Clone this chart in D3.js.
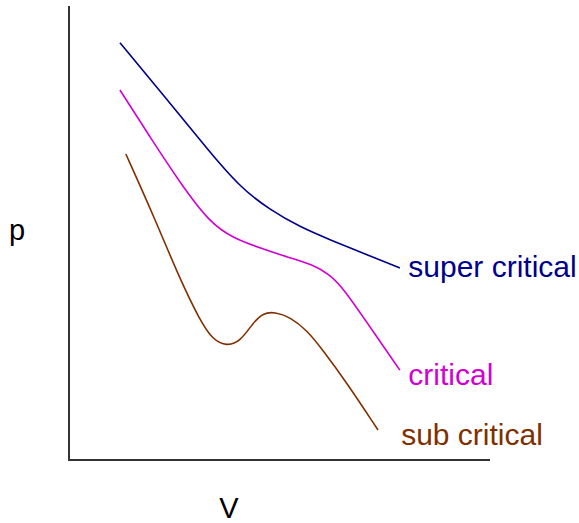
<!DOCTYPE html>
<html>
<head>
<meta charset="utf-8">
<script src="https://cdn.jsdelivr.net/npm/d3@7"></script>
<style>
  body { margin: 0; background: #fff; }
  text { font-family: "Liberation Sans", Arial, sans-serif; }
</style>
</head>
<body>
<div id="chart"></div>
<script>
// isotherm data, V and p in arbitrary units (0..100)
var superV = [12.1, 22.8, 33, 40.6, 47.7, 54.9, 62, 70.8, 78.6];
var superP = [91.9, 80, 68.3, 60.1, 55.1, 51.3, 48.5, 45.2, 42.3];

var critV = [12.1, 19.2, 26.4, 33.5, 39, 45.4, 52.5, 58, 62, 65.1, 71.5, 78.6];
var critP = [81.5, 71.2, 61, 52.2, 48.9, 46.7, 44.5, 43, 40.8, 37.9, 29.3, 19.8];

var subV = [13.5, 20, 26.4, 31.1, 34.2, 37.5, 40.6, 43.7, 46.1, 48.9, 52.5, 56.5, 60.3, 66, 73.4];
var subP = [67.4, 54, 39.7, 30.8, 26.4, 25.1, 26, 30.2, 32.4, 32.6, 31.5, 28.6, 24.2, 17, 6.6];

var seriesNames = ["super critical", "critical", "sub critical"];
var seriesColors = ["#00008b", "#d200d2", "#803000"];
var labelPos = [[80.6, 40.3], [80.6, 16.5], [78.9, 3.3]];

var w = 579, h = 523;
var xScale = d3.scaleLinear().domain([0, 100]).range([69, 490]);
var yScale = d3.scaleLinear().domain([0, 100]).range([460, 6]);

var svg = d3.select("#chart").append("svg")
    .attr("width", w)
    .attr("height", h);

// axes (plain lines, no ticks)
svg.append("path")
    .attr("d", "M" + xScale(0) + "," + yScale(100) + "V" + yScale(0) + "H" + xScale(100))
    .attr("fill", "none")
    .attr("stroke", "#333")
    .attr("stroke-width", 2);

var series = [
    d3.zip(superV, superP),
    d3.zip(critV, critP),
    d3.zip(subV, subP)
];

var line = d3.line()
    .x(function(d){ return xScale(d[0]); })
    .y(function(d){ return yScale(d[1]); })
    .curve(d3.curveBasis);

svg.selectAll(".iso")
    .data(series)
    .enter()
    .append("path")
    .attr("class", "iso")
    .attr("d", line)
    .attr("fill", "none")
    .attr("stroke", function(d, i){ return seriesColors[i]; })
    .attr("stroke-width", 1.6);

svg.selectAll(".lbl")
    .data(seriesNames)
    .enter()
    .append("text")
    .attr("class", "lbl")
    .attr("x", function(d, i){ return xScale(labelPos[i][0]); })
    .attr("y", function(d, i){ return yScale(labelPos[i][1]); })
    .attr("fill", function(d, i){ return seriesColors[i]; })
    .attr("font-size", 30)
    .text(function(d){ return d; });

svg.append("text")
    .attr("x", 9)
    .attr("y", 240)
    .attr("font-size", 29)
    .text("p");

svg.append("text")
    .attr("x", 229)
    .attr("y", 518)
    .attr("text-anchor", "middle")
    .attr("font-size", 29)
    .text("V");
</script>
</body>
</html>
